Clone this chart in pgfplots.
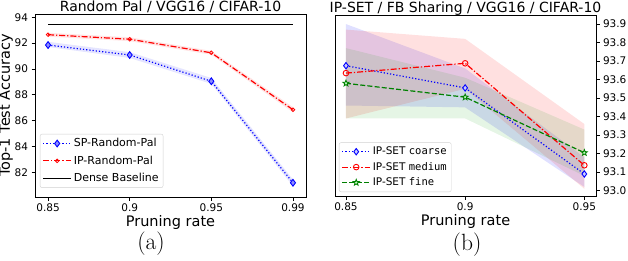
\documentclass[border=0pt]{standalone}
\usepackage{fontspec}
\setsansfont{DejaVu Sans}
\newfontfamily\djs{DejaVu Sans}
\newfontfamily\djm{DejaVu Sans Mono}
\usepackage{pgfplots}
\pgfplotsset{compat=1.18}
\usetikzlibrary{plotmarks}

\pgfdeclareplotmark{pstar}{%
  \pgfpathmoveto{\pgfpointpolar{90}{\pgfplotmarksize}}%
  \pgfpathlineto{\pgfpointpolar{126}{0.42\pgfplotmarksize}}%
  \pgfpathlineto{\pgfpointpolar{162}{\pgfplotmarksize}}%
  \pgfpathlineto{\pgfpointpolar{198}{0.42\pgfplotmarksize}}%
  \pgfpathlineto{\pgfpointpolar{234}{\pgfplotmarksize}}%
  \pgfpathlineto{\pgfpointpolar{270}{0.42\pgfplotmarksize}}%
  \pgfpathlineto{\pgfpointpolar{306}{\pgfplotmarksize}}%
  \pgfpathlineto{\pgfpointpolar{342}{0.42\pgfplotmarksize}}%
  \pgfpathlineto{\pgfpointpolar{18}{\pgfplotmarksize}}%
  \pgfpathlineto{\pgfpointpolar{54}{0.42\pgfplotmarksize}}%
  \pgfpathclose
  \pgfusepathqfillstroke}

\pgfplotsset{
  mpl/.style={
    scale only axis,
    axis line style={black, line width=0.8pt},
    tick align=outside,
    major tick length=3.5pt,
    tick style={black, line width=0.8pt},
    ticklabel style={font=\djs\fontsize{10.5}{12}\selectfont},
    /pgf/number format/assume math mode=true,
    label style={font=\djs\fontsize{14.5}{17}\selectfont},
    every axis title shift=0pt,
    title style={font=\djs\fontsize{14}{17}\selectfont, at={(0.5,1)}, anchor=base, yshift=2.5pt},
    legend cell align=left,
    legend image code/.code={%
      \draw[mark repeat=2,mark phase=2,##1] plot coordinates {(0pt,0pt) (14pt,0pt) (28pt,0pt)};},
    xlabel style={at={(0.5,0)}, anchor=base, yshift=-29pt},
  },
  mdot/.style={dash pattern=on 1.2pt off 2pt},
  mdashdot/.style={dash pattern=on 6pt off 2pt on 1.2pt off 2pt},
  mdash/.style={dash pattern=on 5pt off 2.2pt},
}

\begin{document}
\begin{tikzpicture}
\useasboundingbox (0,0) rectangle (628pt,260pt);

% ---------- (a) ----------
\begin{axis}[mpl,
  at={(35pt,63pt)}, anchor=south west,
  width=271pt, height=183pt,
  xmin=-0.16, xmax=3.16,
  ymin=80.1, ymax=94.25,
  xtick={0,1,2,3}, xticklabels={0.85,0.9,0.95,0.99},
  ytick={82,84,86,88,90,92,94},
  xtick pos=bottom, ytick pos=left,
  title={Random Pal / VGG16 / CIFAR-10},
  xlabel={Pruning rate},
  ylabel={Top-1 Test Accuracy},
  ylabel style={at={(0,0.5)}, anchor=center, rotate=0, yshift=29pt},
  legend style={at={(0.018,0.05)}, anchor=south west, draw=black!18, rounded corners=2pt,
    font=\djs\fontsize{11}{13}\selectfont, inner sep=2.5pt, row sep=3.5pt},
]
% bands
\addplot[forget plot, draw=none, fill=blue, fill opacity=0.1]
  coordinates {(0,92.1) (1,91.3) (2,89.3) (3,81.45) (3,80.95) (2,88.85) (1,90.85) (0,91.7)} -- cycle;
\addplot[forget plot, draw=none, fill=red, fill opacity=0.1]
  coordinates {(0,92.8) (1,92.45) (2,91.4) (3,87.05) (3,86.65) (2,91.1) (1,92.15) (0,92.5)} -- cycle;

\addplot[blue, line width=1.2pt, mdot, mark=diamond*, mark size=3.4pt,
  mark options={solid, fill=blue!45, draw=blue, line width=0.9pt}]
  coordinates {(0,91.85) (1,91.08) (2,89.05) (3,81.2)};
\addlegendentry{SP-Random-Pal}
\addplot[red, line width=1.2pt, mdashdot, mark=o, mark size=1.8pt,
  mark options={solid, fill=white, draw=red, line width=0.8pt}]
  coordinates {(0,92.65) (1,92.3) (2,91.25) (3,86.85)};
\addlegendentry{IP-Random-Pal}
\addplot[black, line width=1.2pt] coordinates {(0,93.45) (3,93.45)};
\addlegendentry{Dense Baseline}
\end{axis}

% ---------- (b) ----------
\begin{axis}[mpl,
  at={(335pt,64pt)}, anchor=south west,
  width=261pt, height=181pt,
  xmin=0.8454, xmax=0.9549,
  ymin=92.971, ymax=93.949,
  xtick={0.85,0.9,0.95}, xticklabels={0.85,0.9,0.95},
  ytick={93.0,93.1,93.2,93.3,93.4,93.5,93.6,93.7,93.8,93.9},
  yticklabel style={/pgf/number format/.cd, fixed, fixed zerofill, precision=1},
  xtick pos=bottom, ytick pos=right, yticklabel pos=right,
  title={IP-SET / FB Sharing / VGG16 / CIFAR-10},
  xlabel={Pruning rate},
  legend style={at={(0.015,0.022)}, anchor=south west, draw=black!18, rounded corners=2pt,
    font=\djs\fontsize{10.5}{12.5}\selectfont, inner sep=2.5pt, row sep=2pt},
]
\addplot[forget plot, draw=none, fill=blue, fill opacity=0.12]
  coordinates {(0.85,93.90) (0.9,93.66) (0.95,93.18) (0.95,93.02) (0.9,93.45) (0.85,93.46)} -- cycle;
\addplot[forget plot, draw=none, fill=red, fill opacity=0.12]
  coordinates {(0.85,93.87) (0.9,93.82) (0.95,93.36) (0.95,93.01) (0.9,93.55) (0.85,93.39)} -- cycle;
\addplot[forget plot, draw=none, fill=green!60!black, fill opacity=0.1]
  coordinates {(0.85,93.77) (0.9,93.61) (0.95,93.33) (0.95,93.08) (0.9,93.39) (0.85,93.39)} -- cycle;

\addplot[blue, line width=1.2pt, mdot, mark=diamond*, mark size=3.2pt,
  mark options={solid, fill=blue!20, draw=blue, line width=0.9pt}]
  coordinates {(0.85,93.675) (0.9,93.555) (0.95,93.09)};
\addlegendentry{IP-SET {\djm coarse}}
\addplot[red, line width=1.2pt, mdashdot, mark=o, mark size=2.8pt,
  mark options={solid, fill=red!25, draw=red, line width=0.9pt}]
  coordinates {(0.85,93.635) (0.9,93.688) (0.95,93.137)};
\addlegendentry{IP-SET {\djm medium}}
\addplot[green!50!black, line width=1.2pt, mdash, mark=pstar, mark size=3.2pt,
  mark options={solid, fill=green!25, draw=green!50!black, line width=0.8pt}]
  coordinates {(0.85,93.58) (0.9,93.505) (0.95,93.205)};
\addlegendentry{IP-SET {\djm fine}}
\end{axis}

\node[font=\fontsize{23.5}{26}\selectfont, anchor=base] at (151pt,11pt) {(a)};
\node[font=\fontsize{23.5}{26}\selectfont, anchor=base] at (467pt,10pt) {(b)};
\end{tikzpicture}
\end{document}
